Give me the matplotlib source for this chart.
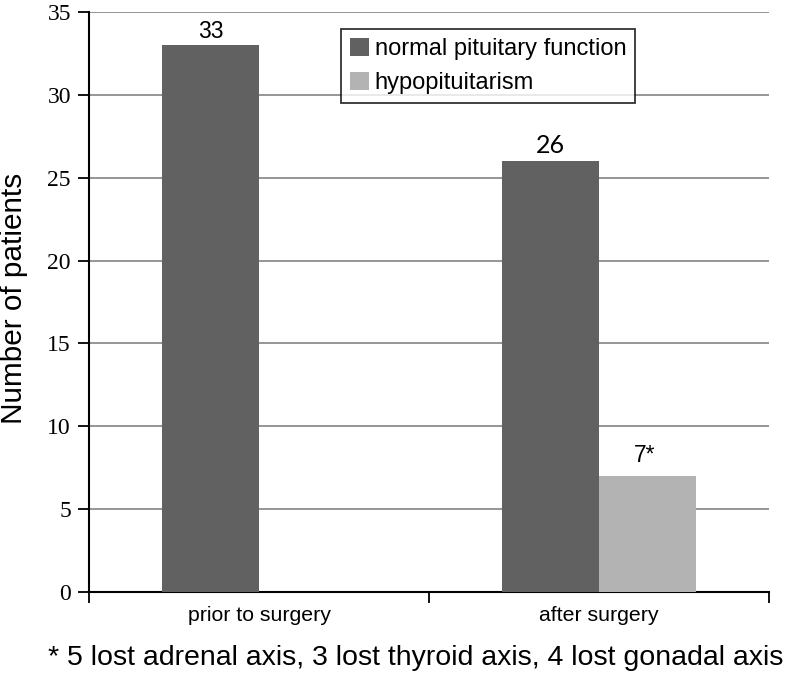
import matplotlib
matplotlib.use("Agg")
import matplotlib.pyplot as plt
from matplotlib.patches import Patch
import numpy as np

categories = ["prior to surgery", "after surgery"]
normal_vals = [33, 26]
hypo_vals = [0, 7]
normal_labels = ["33", "26"]
hypo_labels = ["", "7*"]
series_names = ["normal pituitary function", "hypopituitarism"]
footnote = "* 5 lost adrenal axis, 3 lost thyroid axis, 4 lost gonadal axis"

dark = "#616161"
light = "#b3b3b3"

fig = plt.figure(figsize=(7.86, 6.75), dpi=100)
ax = fig.add_axes([89/786, 1-592/675, (769-89)/786, (592-12)/675])

x = np.arange(len(categories))
w = 0.286
ax.bar(x - w/2, normal_vals, width=w, color=dark, zorder=3)
ax.bar(x + w/2, hypo_vals, width=w, color=light, zorder=3)

label_fonts = ["Liberation Sans", "Lato"]
label_sizes = [16.5, 18]
label_gaps = [0.1, 0.25]
for xi, v, lab, fam, fs, g in zip(x - w/2, normal_vals, normal_labels,
                                   label_fonts, label_sizes, label_gaps):
    ax.text(xi, v + g, lab, ha="center", va="bottom", fontsize=fs,
            family=fam, zorder=4)
for xi, v, lab in zip(x + w/2, hypo_vals, hypo_labels):
    if lab:
        ax.text(xi - 0.01, v + 0.55, lab, ha="center", va="bottom", fontsize=16.5,
                family="Liberation Sans", zorder=4)

ax.set_xlim(-0.5, 1.5)
ax.set_ylim(0, 35)
ax.set_yticks(np.arange(0, 36, 5))
ax.set_yticklabels([str(v) for v in range(0, 36, 5)], family="Liberation Serif", fontsize=17)
ax.yaxis.grid(True, color="#8c8c8c", linewidth=1.3, zorder=0)
ax.set_axisbelow(True)

ax.set_xticks([-0.5, 0.5, 1.5])
ax.set_xticklabels([])
ax.set_xticks(x, minor=True)
ax.set_xticklabels(categories, minor=True, family="Liberation Sans", fontsize=15.3)
ax.tick_params(axis="x", which="minor", length=0, pad=10)
ax.tick_params(axis="x", which="major", length=8, width=1.3, direction="out")
ax.tick_params(axis="y", length=8, width=1.3, direction="out", pad=5)

for s in ["top", "right"]:
    ax.spines[s].set_visible(False)
for s in ["left", "bottom"]:
    ax.spines[s].set_linewidth(1.5)

fig.text(14/786, 1-298/675, "Number of patients", rotation=90, ha="center", va="center",
         family="Liberation Sans", fontsize=21.4)

handles = [Patch(facecolor=dark, edgecolor="none"), Patch(facecolor=light, edgecolor="none")]
leg = ax.legend(handles, series_names, loc="upper left",
                bbox_to_anchor=((341-89)/680, (592-29)/580),
                prop={"family": "Liberation Sans", "size": 17},
                frameon=True, fancybox=False, edgecolor="black",
                handlelength=0.8, handleheight=0.8, handletextpad=0.25,
                borderpad=0.38, labelspacing=0.5, borderaxespad=0)
leg.get_frame().set_linewidth(1.3)

fig.text(416/786, 1-658/675, footnote, ha="center", va="center",
         family="Liberation Sans", fontsize=20.5)

fig.savefig("out.png", dpi=100)
